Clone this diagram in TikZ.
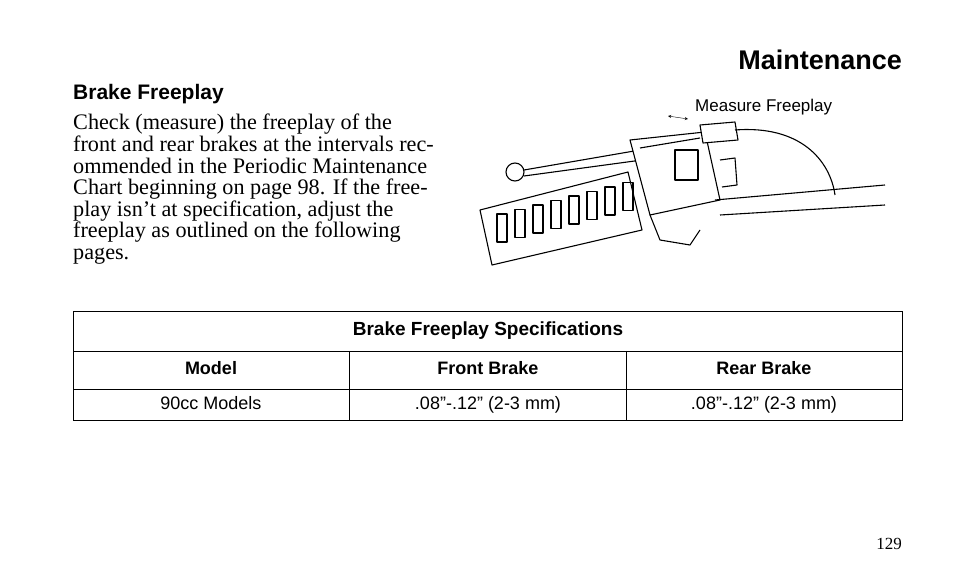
\documentclass[tikz,border=0pt]{standalone}
\usepackage{fontspec}
\setmainfont{Liberation Serif}
\setsansfont{Liberation Sans}
\usetikzlibrary{positioning}
\tikzset{
  cell/.style={anchor=base, font=\sffamily\fontsize{18}{20}\selectfont},
  head/.style={anchor=base, font=\sffamily\bfseries\fontsize{18}{20}\selectfont},
  ink/.style={line width=1.1pt, line join=round}
}
\begin{document}
\begin{tikzpicture}[x=1pt,y=-1pt]
\useasboundingbox[fill=white] (0,0) rectangle (954,588);
% page header
\node[anchor=base east, inner sep=0pt, font=\sffamily\bfseries\fontsize{27}{30}\selectfont] (title) at (902,70) {Maintenance};
\node[anchor=base west, inner sep=0pt, font=\sffamily\bfseries\fontsize{21}{24}\selectfont] (sub) at (73,100) {Brake Freeplay};
\node[anchor=north west, inner sep=0pt, align=left, font=\fontsize{22.2}{21.6}\selectfont] (body) at (73,114)
{Check (measure) the freeplay of the\\front and rear brakes at the intervals rec-\\ommended in the Periodic Maintenance\\Chart beginning on page 98. If the free-\\play isn't at specification, adjust the\\freeplay as outlined on the following\\pages.};
% handlebar sketch
\begin{scope}[ink]
\draw[fill=white] (480,210) -- (628,172) -- (642,230) -- (492,265) -- cycle;
\foreach \i in {0,...,7}
  \draw (497+18*\i,214-4.5*\i) rectangle ++(10,28);
\draw[fill=white] (515,172) circle (9);
\draw (524,170) -- (640,150) -- (642,160) -- (524,176);
\draw[fill=white] (630,140) -- (705,132) -- (720,200) -- (650,215) -- cycle;
\draw (675,150) rectangle (698,180);
\draw[fill=white] (700,125) -- (735,122) -- (738,140) -- (703,143) -- cycle;
\draw (640,148) -- (700,138);
\draw (720,160) -- (735,158) -- (737,185) -- (722,187);
\draw (735,130) .. controls (800,125) and (830,160) .. (835,195);
\draw (715,200) -- (885,185);
\draw (720,215) -- (885,205);
\draw (650,215) -- (660,240) -- (690,245) -- (700,230);
\end{scope}
\node[anchor=base west, inner sep=0pt, font=\sffamily\fontsize{17}{20}\selectfont] (measure) at (695,112) {Measure Freeplay};
\draw[thin,<->,>=stealth] (668,116) -- (688,119);
% table
\draw[thin] (73,311) rectangle (902,420);
\draw[thin] (73,351) -- (902,351) (73,389) -- (902,389);
\draw[thin] (349,351) -- (349,420) (626,351) -- (626,420);
\node[anchor=base, font=\sffamily\bfseries\fontsize{19}{22}\selectfont] (spec) at (488,335) {Brake Freeplay Specifications};
\node[head] (model) at (211,374) {Model};
\node[head] (front) at (488,374) {Front Brake};
\node[head] (rear) at (764,374) {Rear Brake};
\node[cell] (m1) at (211,409) {90cc Models};
\node[cell] (f1) at (488,409) {.08”-.12" (2-3 mm)};
\node[cell] (r1) at (764,409) {.08”-.12" (2-3 mm)};
\node[anchor=base east, inner sep=0pt, font=\fontsize{17}{20}\selectfont] (page) at (902,549) {129};
\end{tikzpicture}
\end{document}
